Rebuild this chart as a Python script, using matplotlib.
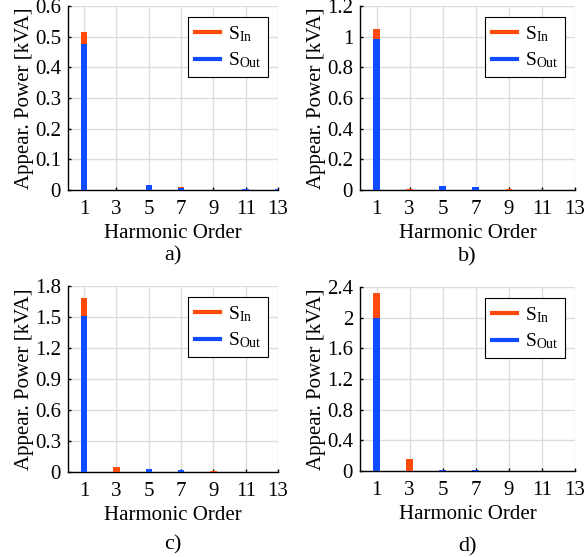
import numpy as np
import matplotlib
matplotlib.use("Agg")
import matplotlib.pyplot as plt
from matplotlib.ticker import FuncFormatter
from matplotlib.lines import Line2D

plt.rcParams['font.family'] = ['Liberation Serif', 'DejaVu Serif']
plt.rcParams['mathtext.fontset'] = 'stix'

# harmonic orders shown
harmonics = [1, 3, 5, 7, 9, 11, 13]

# apparent power per harmonic [kVA]
s_in_a = [0.515, 0.001, 0.017, 0.010, 0.001, 0.002, 0.002]
s_out_a = [0.475, 0.000, 0.017, 0.008, 0.000, 0.002, 0.002]

s_in_b = [1.05, 0.005, 0.026, 0.020, 0.004, 0.003, 0.003]
s_out_b = [0.985, 0.000, 0.026, 0.017, 0.000, 0.003, 0.003]

s_in_c = [1.68, 0.045, 0.022, 0.015, 0.006, 0.003, 0.001]
s_out_c = [1.51, 0.000, 0.025, 0.015, 0.000, 0.003, 0.001]

s_in_d = [2.32, 0.155, 0.010, 0.008, 0.002, 0.001, 0.001]
s_out_d = [2.00, 0.000, 0.012, 0.008, 0.000, 0.001, 0.001]

y_max = [0.6, 1.2, 1.8, 2.4]
y_step = [0.1, 0.2, 0.3, 0.4]
panel_names = ['a)', 'b)', 'c)', 'd)']

c_in = '#FF4A0C'
c_out = '#0F4BFF'

W, H = 584, 557
fig = plt.figure(figsize=(W / 100, H / 100), dpi=100)

# axes boxes in pixels: left, right, top, bottom
boxes = [(68, 278, 6, 190), (360, 575, 6, 190),
         (68, 278, 286, 472), (360, 575, 287, 471)]
# where the panel letter sits (pixel y of its centre)
name_y = [256, 257, 545, 547]

data = [(s_in_a, s_out_a), (s_in_b, s_out_b), (s_in_c, s_out_c), (s_in_d, s_out_d)]

fs = 15
for i in range(4):
    l, r, t, b = boxes[i]
    ax = fig.add_axes([l / W, (H - b) / H, (r - l) / W, (b - t) / H])
    s_in, s_out = data[i]
    ax.bar(harmonics, s_in, width=0.4, color=c_in, zorder=3)
    ax.bar(harmonics, s_out, width=0.4, color=c_out, zorder=3)
    ax.set_xlim(0, 13)
    ax.set_ylim(0, y_max[i])
    ax.set_xticks(harmonics)
    ax.set_yticks(np.arange(0, y_max[i] + 1e-9, y_step[i]))
    ax.yaxis.set_major_formatter(FuncFormatter(lambda v, p: '%g' % round(v, 2)))
    ax.grid(True, color='#DCDCDC', linewidth=1.0, zorder=0)
    ax.set_axisbelow(True)
    for s in ['top', 'right']:
        ax.spines[s].set_visible(False)
    ax.spines['left'].set_linewidth(1.0)
    ax.spines['bottom'].set_linewidth(1.0)
    ax.tick_params(direction='in', length=2.5, width=1, labelsize=fs)
    ax.tick_params(axis='y', pad=5)
    ax.tick_params(axis='x', pad=7)
    ax.set_xlabel('Harmonic Order', fontsize=fs, labelpad=4)
    ax.set_ylabel('Appear. Power [kVA]', fontsize=fs, labelpad=1)

    handles = [Line2D([], [], color=c_in, lw=3), Line2D([], [], color=c_out, lw=3)]
    labels = [r'$\mathregular{S_{In}}$', r'$\mathregular{S_{Out}}$']
    ax_w = r - l
    ax_h = b - t
    anchor = ((ax_w - 10) / ax_w, (ax_h - 11) / ax_h)
    leg = ax.legend(handles, labels, loc='upper right', bbox_to_anchor=anchor,
                    borderaxespad=0, fontsize=14, frameon=True, fancybox=False,
                    edgecolor='black', framealpha=1, handlelength=1.3,
                    handletextpad=0.4, borderpad=0.35, labelspacing=0.35)
    leg.get_frame().set_linewidth(0.8)
    fig.text((l + r) / 2 / W, 1 - name_y[i] / H, panel_names[i], ha='center',
             va='center', fontsize=fs + 1)

fig.savefig('out.png', dpi=100)
